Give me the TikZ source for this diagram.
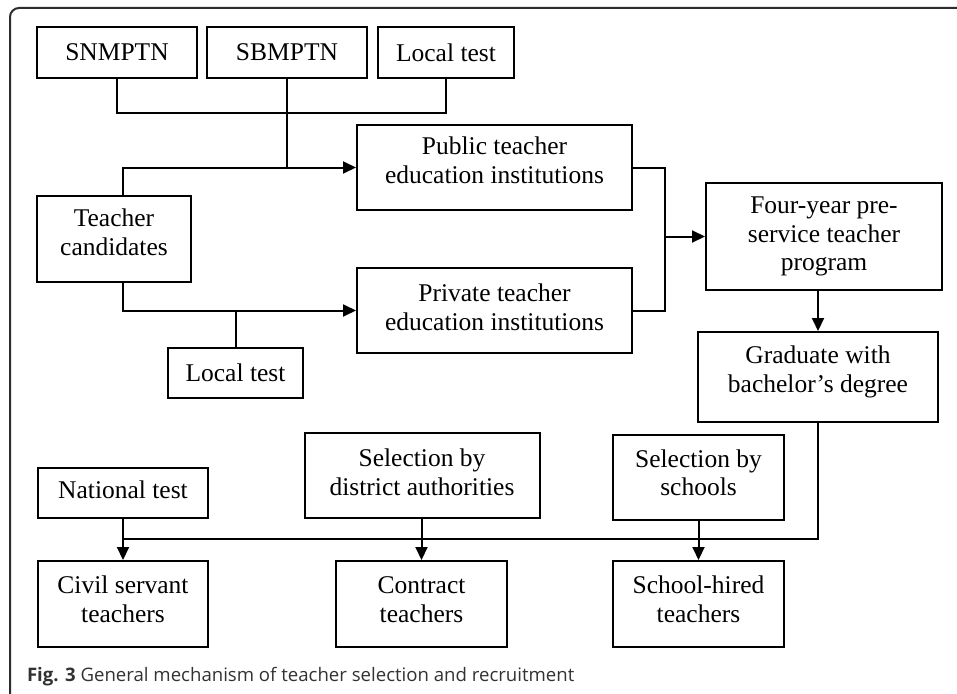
\documentclass[tikz,border=0pt]{standalone}
\usepackage{fontspec}
\setmainfont{Liberation Serif}
\newfontfamily\capfont{Open Sans}
\usepackage{tikz}
\usetikzlibrary{arrows.meta}
\definecolor{framegray}{RGB}{45, 45, 45}
\definecolor{capgray}{RGB}{50, 50, 50}
% text set a little above the middle of its box
\newcommand{\lifted}[2][1.5pt]{\raisebox{#1}[\height][\depth]{\begin{tabular}{@{}c@{}}#2\end{tabular}}}

\begin{document}
\begin{tikzpicture}[x=1pt, y=-1pt, line width=2pt,
    >={Triangle[length=13pt, width=12pt]},
    box/.style={draw, rectangle, align=center, inner sep=2pt,
      font=\fontsize{25.5}{28.5}\selectfont}]
  \useasboundingbox (0, 0) rectangle (957, 693);
  \begin{scope}
    \clip (0, 0) rectangle (957, 693);
    \draw[framegray, rounded corners=9] (975, 8) -- (10, 8) -- (10, 703) -- (975, 703);
  \end{scope}

  % entrance tests
  \node[box, minimum width=160, minimum height=51] (snmptn) at (117, 52.5) {SNMPTN};
  \node[box, minimum width=160, minimum height=51] (sbmptn) at (287, 52.5) {SBMPTN};
  \node[box, minimum width=136, minimum height=51] (localtop) at (446, 52.5) {Local test};

  \node[box, minimum width=154, minimum height=86] (teacher) at (114, 239) {\lifted[3.5pt]{Teacher\\candidates}};
  \node[box, minimum width=135, minimum height=50] (localbot) at (235.5, 373) {Local test};

  % institutions and program
  \node[box, minimum width=275, minimum height=85] (public) at (494.5, 167.5) {\lifted[4pt]{Public teacher\\education institutions}};
  \node[box, minimum width=275, minimum height=85] (private) at (494.5, 310.5) {\lifted[0pt]{Private teacher\\education institutions}};
  \node[box, minimum width=236, minimum height=107] (program) at (824, 236.5) {Four-year pre-\\service teacher\\program};
  \node[box, minimum width=240, minimum height=90] (graduate) at (818, 377) {\lifted[4.5pt]{Graduate with\\bachelor’s degree}};

  % recruitment
  \node[box, minimum width=170, minimum height=50] (national) at (123, 493) {\lifted[0pt]{National test}};
  \node[box, minimum width=235, minimum height=85] (district) at (422, 475.5) {\lifted[0pt]{Selection by\\district authorities}};
  \node[box, minimum width=171, minimum height=85] (schools) at (698.5, 477.5) {\lifted{Selection by\\schools}};
  \node[box, minimum width=170, minimum height=86] (civil) at (123, 604) {\lifted{Civil servant\\teachers}};
  \node[box, minimum width=171, minimum height=86] (contract) at (421.5, 604) {\lifted{Contract\\teachers}};
  \node[box, minimum width=171, minimum height=86] (hired) at (698.5, 604) {\lifted{School-hired\\teachers}};

  \coordinate (testjoin) at (287, 113);
  \coordinate (progjoin) at (665, 236.5);
  \coordinate (gradjoin) at (123, 539);

  \draw (snmptn.south) |- (testjoin) -| (localtop.south);
  \draw (sbmptn.south) -- (testjoin) -- (testjoin |- public.west);
  \draw[->] ([xshift=9pt]teacher.north) |- (public.west);
  \draw[->] ([xshift=9pt]teacher.south) |- (private.west);
  \draw (localbot.north) -- (localbot.north |- private.west);

  \draw (public.east) -| (progjoin) |- (private.east);
  \draw[->] (progjoin) -- (program.west);
  \draw[->] (program.south -| graduate.north) -- (graduate.north);

  \draw (graduate.south) |- (gradjoin);
  \draw[->] (national.south) -- (civil.north);
  \draw[->] (district.south -| contract.north) -- (contract.north);
  \draw[->] (schools.south) -- (hired.north);

  \node[anchor=base west, inner sep=0pt, text=capgray, font=\capfont\fontsize{18.6}{22}\selectfont] (caption) at (26, 681)
    {\textbf{Fig. 3} General mechanism of teacher selection and recruitment};
\end{tikzpicture}
\end{document}
